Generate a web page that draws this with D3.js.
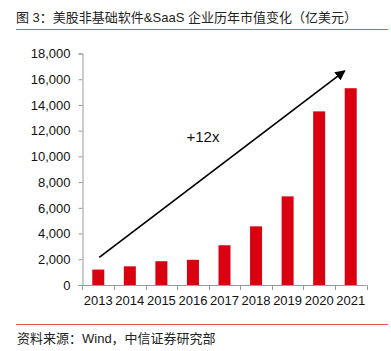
<!DOCTYPE html>
<html>
<head>
<meta charset="utf-8">
<script src="https://cdn.jsdelivr.net/npm/d3@7"></script>
<style>
  body { margin: 0; background: #fff; }
  text { font-family: "Liberation Sans", Arial, "Noto Sans CJK SC", sans-serif; }
</style>
</head>
<body>
<script>
//chart data
var years = ["2013", "2014", "2015", "2016", "2017", "2018", "2019", "2020", "2021"];
var marketCap = [1200, 1450, 1850, 1960, 3090, 4560, 6890, 13500, 15300];
var yTicks = [0, 2000, 4000, 6000, 8000, 10000, 12000, 14000, 16000, 18000];

var titleText = "图 3：美股非基础软件&SaaS 企业历年市值变化（亿美元）";
var sourceText = "资料来源：Wind，中信证券研究部";
var arrowLabel = "+12x";
//arrow goes from the first year to just left of the last bar, in data units
var arrowFrom = {year: "2013", value: 2150};
var arrowTo = {year: "2021", value: 16650};

window.onload = drawChart();

function drawChart(){
    var width = 391,
        height = 351;

    var svg = d3.select("body")
        .append("svg")
        .attr("width", width)
        .attr("height", height);

    //title and rules
    svg.append("text")
        .attr("x", 16)
        .attr("y", 22)
        .attr("font-size", 13)
        .attr("fill", "#222")
        .text(titleText);

    svg.append("line")
        .attr("x1", 16).attr("x2", 388)
        .attr("y1", 29.5).attr("y2", 29.5)
        .attr("stroke", "#e05a5a")
        .attr("stroke-width", 1);

    svg.append("line")
        .attr("x1", 16).attr("x2", 388)
        .attr("y1", 324.5).attr("y2", 324.5)
        .attr("stroke", "#e05a5a")
        .attr("stroke-width", 1);

    svg.append("text")
        .attr("x", 17)
        .attr("y", 343)
        .attr("font-size", 13)
        .attr("fill", "#222")
        .text(sourceText);

    //plot area
    var left = 82.5, right = 366.5, top = 53.5, bottom = 285;

    var x = d3.scaleBand()
        .domain(years)
        .range([left, right])
        .paddingInner(0.62)
        .paddingOuter(0.31);

    var y = d3.scaleLinear()
        .domain([0, 18000])
        .range([bottom, top]);

    //bars
    svg.selectAll(".bar")
        .data(marketCap)
        .enter()
        .append("rect")
        .attr("class", "bar")
        .attr("x", function(d, i){ return x(years[i]); })
        .attr("width", x.bandwidth())
        .attr("y", function(d){ return y(d); })
        .attr("height", function(d){ return y(0) - y(d); })
        .attr("fill", "#d9000f");

    //y axis
    var yAxis = d3.axisLeft(y)
        .tickValues(yTicks)
        .tickSize(4)
        .tickPadding(8)
        .tickFormat(d3.format(","));

    var gy = svg.append("g")
        .attr("transform", "translate(" + left + ",0)")
        .call(yAxis);
    gy.select(".domain").attr("stroke", "#999");
    gy.selectAll(".tick line").attr("stroke", "#999");
    gy.selectAll(".tick text")
        .attr("font-size", 13)
        .attr("fill", "#111")
        .style("font-family", "'Liberation Sans', Arial, sans-serif");

    //x axis line with ticks at band edges
    var gx = svg.append("g");
    gx.append("line")
        .attr("x1", left - 4).attr("x2", right)
        .attr("y1", bottom + 0.5).attr("y2", bottom + 0.5)
        .attr("stroke", "#999");

    var step = x.step();
    var edges = d3.range(years.length + 1).map(function(i){
        return x(years[0]) - x.paddingOuter() * step + i * step;
    });
    gx.selectAll(".xtick")
        .data(edges)
        .enter()
        .append("line")
        .attr("class", "xtick")
        .attr("x1", function(d){ return Math.round(d) + 0.5; })
        .attr("x2", function(d){ return Math.round(d) + 0.5; })
        .attr("y1", bottom)
        .attr("y2", bottom + 5)
        .attr("stroke", "#999");

    gx.selectAll(".xlabel")
        .data(years)
        .enter()
        .append("text")
        .attr("class", "xlabel")
        .attr("x", function(d){ return x(d) + x.bandwidth() / 2; })
        .attr("y", bottom + 20)
        .attr("text-anchor", "middle")
        .attr("font-size", 13)
        .attr("fill", "#111")
        .text(function(d){ return d; });

    //trend arrow
    var defs = svg.append("defs");
    defs.append("marker")
        .attr("id", "arrowhead")
        .attr("viewBox", "0 0 10 10")
        .attr("refX", 9)
        .attr("refY", 5)
        .attr("markerWidth", 6)
        .attr("markerHeight", 6)
        .attr("markerUnits", "strokeWidth")
        .attr("orient", "auto")
        .append("path")
        .attr("d", "M0,0 L10,5 L0,10 Z")
        .attr("fill", "#000");

    svg.append("line")
        .attr("x1", x(arrowFrom.year) + x.bandwidth() / 2 + 1)
        .attr("y1", y(arrowFrom.value))
        .attr("x2", x(arrowTo.year))
        .attr("y2", y(arrowTo.value))
        .attr("stroke", "#000")
        .attr("stroke-width", 1.7)
        .attr("marker-end", "url(#arrowhead)");

    svg.append("text")
        .attr("x", 203)
        .attr("y", y(11100))
        .attr("text-anchor", "middle")
        .attr("font-size", 15)
        .attr("fill", "#111")
        .text(arrowLabel);
}
</script>
</body>
</html>
